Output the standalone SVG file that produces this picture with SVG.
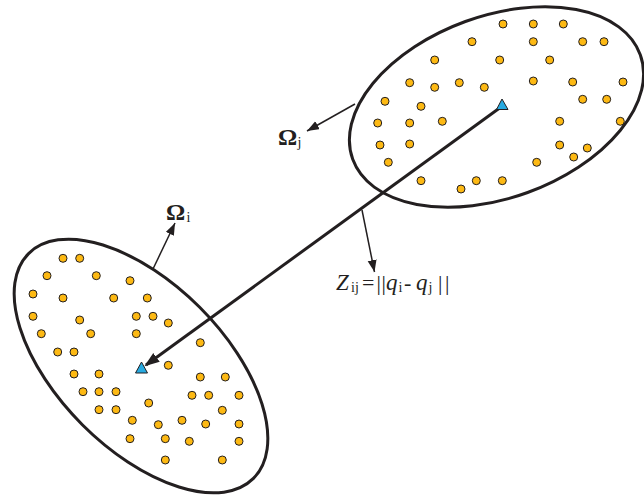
<svg xmlns="http://www.w3.org/2000/svg" width="644" height="496" viewBox="0 0 644 496">
<defs>
<style>
.ell{fill:none;stroke:#231f20;stroke-width:3}
.dot{fill:#fdb913;stroke:#231f20;stroke-width:1}
.tri{fill:#27aae1;stroke:#231f20;stroke-width:1}
.thin{fill:none;stroke:#231f20;stroke-width:1.5}
.main{fill:none;stroke:#231f20;stroke-width:3}
.lbl{font-family:"Liberation Serif","Times New Roman",serif;fill:#231f20}
.om{font-size:24px;font-weight:bold}
.sub{font-size:14px}
.it{font-style:italic;font-size:23px}
.rg{font-size:22px}
</style>
<marker id="ah" markerUnits="userSpaceOnUse" markerWidth="13" markerHeight="10" refX="12" refY="4.5" orient="auto">
<path d="M0,0 L12,4.5 L0,9 z" fill="#231f20"/>
</marker>
<marker id="ahm" markerUnits="userSpaceOnUse" markerWidth="16" markerHeight="12" refX="13" refY="5.5" orient="auto">
<path d="M0,0 L15,5.5 L0,11 z" fill="#231f20"/>
</marker>
</defs>

<g id="omega-j">
<ellipse class="ell" cx="496.5" cy="107" rx="153" ry="91" transform="rotate(-20 496.5 107)"/>
<g id="dots-j">
<circle class="dot" cx="503" cy="24" r="4"/>
<circle class="dot" cx="533.3" cy="24" r="4"/>
<circle class="dot" cx="563.3" cy="24" r="4"/>
<circle class="dot" cx="472" cy="41.7" r="4"/>
<circle class="dot" cx="533.3" cy="41.7" r="4"/>
<circle class="dot" cx="582.7" cy="41.7" r="4"/>
<circle class="dot" cx="604" cy="41.7" r="4"/>
<circle class="dot" cx="434.7" cy="60" r="4"/>
<circle class="dot" cx="499.7" cy="60" r="4"/>
<circle class="dot" cx="549.7" cy="60" r="4"/>
<circle class="dot" cx="409.7" cy="82.7" r="4"/>
<circle class="dot" cx="434.7" cy="87.3" r="4"/>
<circle class="dot" cx="459.3" cy="82.7" r="4"/>
<circle class="dot" cx="484.3" cy="87.3" r="4"/>
<circle class="dot" cx="533.3" cy="81" r="4"/>
<circle class="dot" cx="572.7" cy="82" r="4"/>
<circle class="dot" cx="623" cy="82" r="4"/>
<circle class="dot" cx="385" cy="101.3" r="4"/>
<circle class="dot" cx="421" cy="106.3" r="4"/>
<circle class="dot" cx="582.7" cy="99.3" r="4"/>
<circle class="dot" cx="606.7" cy="99.3" r="4"/>
<circle class="dot" cx="377.7" cy="123" r="4"/>
<circle class="dot" cx="409.7" cy="123" r="4"/>
<circle class="dot" cx="442.3" cy="121.3" r="4"/>
<circle class="dot" cx="559.7" cy="121.3" r="4"/>
<circle class="dot" cx="620.3" cy="121.3" r="4"/>
<circle class="dot" cx="380" cy="145" r="4"/>
<circle class="dot" cx="409.7" cy="144" r="4"/>
<circle class="dot" cx="559.7" cy="145" r="4"/>
<circle class="dot" cx="587.3" cy="148" r="4"/>
<circle class="dot" cx="573.7" cy="157" r="4"/>
<circle class="dot" cx="388.3" cy="162.3" r="4"/>
<circle class="dot" cx="536.7" cy="162.3" r="4"/>
<circle class="dot" cx="421" cy="180.7" r="4"/>
<circle class="dot" cx="476.3" cy="180.7" r="4"/>
<circle class="dot" cx="502.3" cy="180.7" r="4"/>
<circle class="dot" cx="461" cy="189" r="4"/>
</g>
</g>

<g id="omega-i">
<ellipse class="ell" cx="141" cy="366" rx="159" ry="83" transform="rotate(45 141 366)"/>
<g id="dots-i">
<circle class="dot" cx="63" cy="258.3" r="4"/>
<circle class="dot" cx="79.7" cy="258.3" r="4"/>
<circle class="dot" cx="47" cy="275.7" r="4"/>
<circle class="dot" cx="96.3" cy="275.7" r="4"/>
<circle class="dot" cx="130" cy="280.7" r="4"/>
<circle class="dot" cx="33" cy="294" r="4"/>
<circle class="dot" cx="63" cy="298" r="4"/>
<circle class="dot" cx="113.7" cy="298" r="4"/>
<circle class="dot" cx="147.3" cy="298" r="4"/>
<circle class="dot" cx="33" cy="316.3" r="4"/>
<circle class="dot" cx="79.7" cy="320" r="4"/>
<circle class="dot" cx="136.3" cy="316.3" r="4"/>
<circle class="dot" cx="153" cy="316.3" r="4"/>
<circle class="dot" cx="168.3" cy="323" r="4"/>
<circle class="dot" cx="41.3" cy="333.7" r="4"/>
<circle class="dot" cx="90.7" cy="333.7" r="4"/>
<circle class="dot" cx="136.3" cy="333.7" r="4"/>
<circle class="dot" cx="200.3" cy="342.7" r="4"/>
<circle class="dot" cx="57.7" cy="352" r="4"/>
<circle class="dot" cx="74" cy="352" r="4"/>
<circle class="dot" cx="168.3" cy="365.3" r="4"/>
<circle class="dot" cx="74" cy="374" r="4"/>
<circle class="dot" cx="99" cy="374" r="4"/>
<circle class="dot" cx="200.3" cy="377" r="4"/>
<circle class="dot" cx="225.3" cy="377" r="4"/>
<circle class="dot" cx="83" cy="391.7" r="4"/>
<circle class="dot" cx="99" cy="391.7" r="4"/>
<circle class="dot" cx="116" cy="391.7" r="4"/>
<circle class="dot" cx="192" cy="395.3" r="4"/>
<circle class="dot" cx="208.7" cy="395.3" r="4"/>
<circle class="dot" cx="239" cy="395.3" r="4"/>
<circle class="dot" cx="148.7" cy="403" r="4"/>
<circle class="dot" cx="99" cy="409.7" r="4"/>
<circle class="dot" cx="116" cy="409.7" r="4"/>
<circle class="dot" cx="222.3" cy="410.3" r="4"/>
<circle class="dot" cx="132.3" cy="420.3" r="4"/>
<circle class="dot" cx="158.3" cy="424.7" r="4"/>
<circle class="dot" cx="182" cy="420.3" r="4"/>
<circle class="dot" cx="205.7" cy="424" r="4"/>
<circle class="dot" cx="239" cy="424" r="4"/>
<circle class="dot" cx="130" cy="438.7" r="4"/>
<circle class="dot" cx="165.3" cy="438.7" r="4"/>
<circle class="dot" cx="189.3" cy="441.3" r="4"/>
<circle class="dot" cx="239" cy="441.3" r="4"/>
<circle class="dot" cx="165.3" cy="460" r="4"/>
<circle class="dot" cx="222.3" cy="460" r="4"/>
</g>
</g>

<g id="connectors">
<line class="main" x1="501" y1="107" x2="146" y2="365" marker-end="url(#ahm)"/>
<line class="thin" x1="355" y1="104" x2="307" y2="131" marker-end="url(#ah)"/>
<line class="thin" x1="153" y1="269" x2="175" y2="223" marker-end="url(#ah)"/>
<line class="thin" x1="362" y1="210" x2="374.5" y2="272" marker-end="url(#ah)"/>
</g>

<g id="centroid-j">
<polygon class="tri" points="502,99 496.5,109.5 508,109.5"/>
</g>
<g id="centroid-i">
<polygon class="tri" points="141.5,362 135.5,373 147.5,373"/>
</g>

<g id="label-omega-j">
<text class="lbl" y="145"><tspan class="om" x="278">Ω</tspan><tspan class="sub" x="297.5" y="147">j</tspan></text>
</g>
<g id="label-omega-i">
<text class="lbl" y="219.5"><tspan class="om" x="166">Ω</tspan><tspan class="sub" x="186.5" y="221.5">i</tspan></text>
</g>
<g id="label-z">
<text class="lbl" y="289.5"><tspan class="it" x="336">Z</tspan><tspan class="sub" x="351" y="292">ij</tspan><tspan class="rg" x="362" y="289.5">=</tspan><tspan class="rg" x="376.5">|</tspan><tspan class="rg" x="381.5">|</tspan><tspan class="it" x="386">q</tspan><tspan class="sub" x="398.5" y="292">i</tspan><tspan class="rg" x="404" y="289.5">-</tspan><tspan class="it" x="416">q</tspan><tspan class="sub" x="428.5" y="292">j</tspan><tspan class="rg" x="438" y="289.5">|</tspan><tspan class="rg" x="445">|</tspan></text>
</g>
</svg>
